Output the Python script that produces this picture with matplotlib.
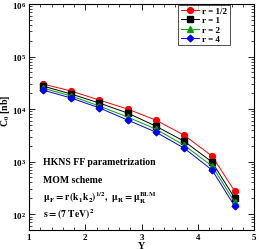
import matplotlib
matplotlib.use("Agg")
import matplotlib.pyplot as plt
from matplotlib.ticker import LogLocator, MultipleLocator, NullFormatter

plt.rcParams['font.family'] = ['Liberation Serif', 'DejaVu Serif']
plt.rcParams['font.weight'] = 'bold'
plt.rcParams['mathtext.fontset'] = 'stix'

Y = [1.25, 1.75, 2.25, 2.75, 3.25, 3.75, 4.25, 4.65]
r_half = [29900, 22000, 14800, 10000, 6160, 3200, 1270, 274]
r_one = [27400, 19300, 13000, 8400, 4740, 2460, 980, 202]
r_two = [25100, 17700, 11400, 7050, 4160, 2060, 820, 170]
r_four = [23000, 16200, 10500, 6170, 3650, 1810, 690, 142]

series = [
    ("r = 1/2", r_half, "red", "o"),
    ("r = 1", r_one, "black", "s"),
    ("r = 2", r_two, "#00a000", "^"),
    ("r = 4", r_four, "blue", "D"),
]

fig = plt.figure(figsize=(2.59, 2.51), dpi=100)
ax = fig.add_axes([0.112, 0.080, 0.870, 0.900])
for lab, vals, col, mk in series:
    ax.plot(Y, vals, color=col, marker=mk, lw=0.7,
            ms=4.2 if mk != "D" else 3.4, label=lab)

ax.set_yscale("log")
ax.set_xlim(1, 5)
ax.set_ylim(50, 1e6)
ax.xaxis.set_major_locator(MultipleLocator(1))
ax.xaxis.set_minor_locator(MultipleLocator(0.2))
ax.yaxis.set_major_locator(LogLocator(base=10, numticks=10))
ax.yaxis.set_minor_locator(LogLocator(base=10, subs=range(2, 10), numticks=20))
ax.yaxis.set_minor_formatter(NullFormatter())
ax.tick_params(which='both', direction='in', top=True, right=True, labelsize=6.5, pad=2)
ax.tick_params(which='major', length=4, width=0.6)
ax.tick_params(which='minor', length=2, width=0.5)
for s in ax.spines.values():
    s.set_linewidth(0.8)
for t in ax.get_xticklabels() + ax.get_yticklabels():
    t.set_fontweight('bold')

ax.set_xlabel("Y", fontsize=7, fontweight='bold', labelpad=0)
ax.set_ylabel(r"C$_0$ [nb]", fontsize=7, fontweight='bold')
ax.yaxis.set_label_coords(-0.075, 0.53)

leg = ax.legend(loc='upper right', bbox_to_anchor=(0.89, 0.997), fontsize=6.5,
                frameon=True, fancybox=False, edgecolor='black', handlelength=2.0,
                borderpad=0.25, labelspacing=0.1, handletextpad=0.4, borderaxespad=0.0)
leg.get_frame().set_linewidth(0.6)
for t in leg.get_texts():
    t.set_fontweight('bold')

tx = 1.25
fs = 7
ax.text(tx, 1.0e3, "HKNS FF parametrization", fontsize=fs, fontweight='bold', va='center')
ax.text(tx, 4.6e2, "MOM scheme", fontsize=fs, fontweight='bold', va='center')
ax.text(tx, 2.1e2, r"$\mathbf{\mu_F = r\,(k_1 k_2)^{1/2},\ \mu_R = \mu_R^{BLM}}$", fontsize=fs, va='center')
ax.text(tx, 1.0e2, r"$\mathbf{s = (7\ TeV)^2}$", fontsize=fs, va='center')

fig.savefig("out.png", dpi=100)
